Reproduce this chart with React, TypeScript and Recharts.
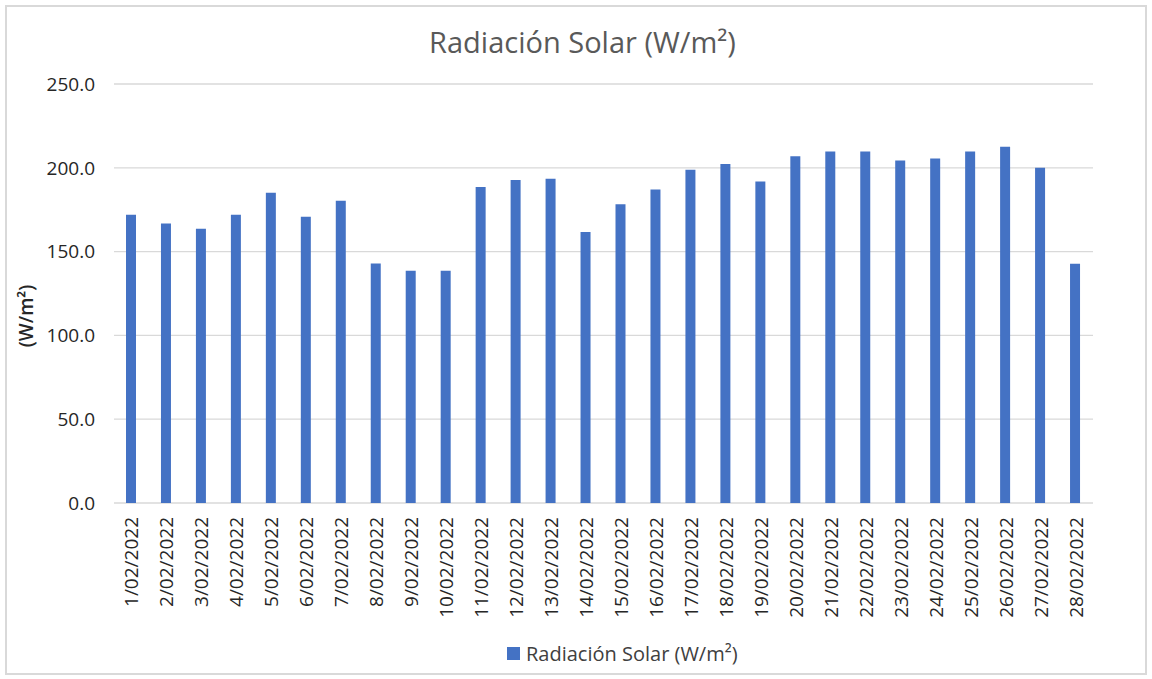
import React from 'react';
import { BarChart, Bar, XAxis, YAxis, CartesianGrid, Legend, Label } from 'recharts';

const categories = [
  '1/02/2022', '2/02/2022', '3/02/2022', '4/02/2022', '5/02/2022', '6/02/2022', '7/02/2022',
  '8/02/2022', '9/02/2022', '10/02/2022', '11/02/2022', '12/02/2022', '13/02/2022', '14/02/2022',
  '15/02/2022', '16/02/2022', '17/02/2022', '18/02/2022', '19/02/2022', '20/02/2022', '21/02/2022',
  '22/02/2022', '23/02/2022', '24/02/2022', '25/02/2022', '26/02/2022', '27/02/2022', '28/02/2022',
];

const radiacion = [
  172.0, 166.7, 163.7, 172.0, 185.1, 170.8, 180.4, 142.9, 138.5, 138.5,
  188.5, 192.7, 193.5, 161.7, 178.2, 187.1, 198.8, 202.2, 191.9, 206.9,
  209.7, 209.7, 204.4, 205.6, 209.7, 212.5, 200.0, 142.7,
];

const yTicks = [0, 50, 100, 150, 200, 250];
const boundaryTicks = [0, 1, 2, 3, 4, 5, 6, 7, 8, 9, 10, 11, 12, 13, 14, 15, 16, 17, 18, 19, 20, 21, 22, 23, 24, 25, 26, 27, 28];

const SERIES_NAME = 'Radiación Solar (W/m²)';
const TITLE = 'Radiación Solar (W/m²)';
const Y_LABEL = '(W/m²)';

const data = categories.map((fecha, i) => ({ fecha, valor: radiacion[i], pos: i + 0.5 }));

const FONT = '"Open Sans", "Noto Sans", sans-serif';

const XTick = (props: any) => {
  const { x, y, payload } = props;
  return (
    <g transform={`translate(${x},${y})`}>
      <text
        x={0}
        y={0}
        transform="rotate(-90)"
        textAnchor="end"
        dominantBaseline="central"
        fontSize={19}
        fill="#262626"
        fontFamily={FONT}
      >
        {payload.value}
      </text>
    </g>
  );
};

const LegendContent = () => (
  <div
    style={{
      height: 36,
      display: 'flex',
      alignItems: 'center',
      paddingLeft: 507,
      boxSizing: 'border-box',
      fontFamily: FONT,
    }}
  >
    <span style={{ display: 'inline-block', width: 13, height: 13, background: '#4472C4', marginRight: 6 }} />
    <span style={{ fontSize: 20, color: '#404040' }}>{SERIES_NAME}</span>
  </div>
);

export default function App() {
  return (
    <div style={{ position: 'absolute', left: 0, top: 0, width: 1152, height: 679, background: '#fff', fontFamily: FONT }}>
      <div
        style={{
          position: 'absolute',
          left: 5,
          top: 5,
          width: 1138,
          height: 666,
          border: '2px solid #d9d9d9',
          pointerEvents: 'none',
        }}
      />
      <div
        style={{
          position: 'absolute',
          left: 0,
          top: 22,
          width: 1165,
          textAlign: 'center',
          fontSize: 29,
          lineHeight: '40px',
          color: '#595959',
          fontFamily: FONT,
        }}
      >
        {TITLE}
      </div>
      <BarChart
        width={1152}
        height={679}
        data={data}
        margin={{ top: 84, right: 59, bottom: 8, left: 0 }}
        barCategoryGap={0}
      >
        <CartesianGrid vertical={false} stroke="#d9d9d9" strokeWidth={1.3} />
        <XAxis
          xAxisId="b"
          dataKey="pos"
          type="number"
          domain={[0, 28]}
          ticks={boundaryTicks}
          tick={false}
          tickSize={7}
          tickLine={{ stroke: '#d9d9d9', strokeWidth: 1.3 }}
          axisLine={{ stroke: '#d9d9d9', strokeWidth: 1.3 }}
          height={0}
          interval={0}
        />
        <XAxis
          dataKey="fecha"
          type="category"
          interval={0}
          axisLine={false}
          tickLine={false}
          tickSize={0}
          tickMargin={14}
          height={132}
          tick={<XTick />}
        />
        <YAxis
          domain={[0, 250]}
          ticks={yTicks}
          width={114}
          axisLine={false}
          tickLine={false}
          tickSize={0}
          tickMargin={19}
          tickFormatter={(v: number) => v.toFixed(1)}
          tick={{ fontSize: 19, fill: '#262626', fontFamily: FONT }}
        >
          <Label
            content={() => (
              <text
                x={26}
                y={316}
                transform="rotate(-90 26 316)"
                textAnchor="middle"
                dominantBaseline="central"
                fontSize={19}
                fontWeight={600}
                fill="#262626"
                fontFamily={FONT}
              >
                {Y_LABEL}
              </text>
            )}
          />
        </YAxis>
        <Legend verticalAlign="bottom" content={<LegendContent />} />
        <Bar dataKey="valor" name={SERIES_NAME} fill="#4472C4" barSize={10} isAnimationActive={false} />
      </BarChart>
    </div>
  );
}
